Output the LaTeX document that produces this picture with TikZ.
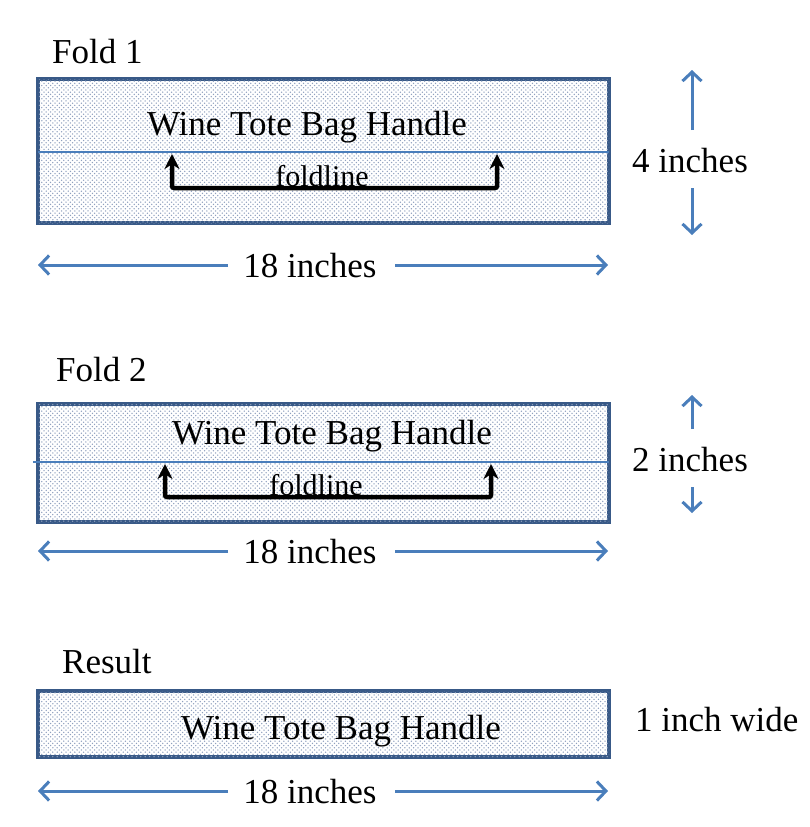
\documentclass[tikz,border=0pt]{standalone}
\usepackage{fontspec}
\setmainfont{Liberation Serif}
\usetikzlibrary{arrows.meta,patterns}
\definecolor{edgeblue}{HTML}{385987}
\definecolor{dimblue}{HTML}{4A7EBB}
\definecolor{dotblue}{HTML}{8FA0BE}
\pgfdeclarepatternformonly{stagdots}{\pgfpoint{-1pt}{-1pt}}{\pgfpoint{5.4pt}{5.4pt}}{\pgfpoint{4.4pt}{4.4pt}}{%
  \pgfpathcircle{\pgfpoint{0pt}{0pt}}{0.75pt}%
  \pgfpathcircle{\pgfpoint{2.2pt}{2.2pt}}{0.75pt}%
  \pgfusepath{fill}}
\tikzset{
  bandbox/.style={draw=edgeblue,line width=4pt,fill=white,postaction={pattern=stagdots,pattern color=dotblue}},
  fline/.style={draw=dimblue,line width=1.4pt},
  dimarrow/.style={draw=dimblue,line width=3pt,-{Straight Barb[length=9pt,width=19pt,line width=3pt]}},
  bracketarrow/.style={draw=black,line width=4.5pt,{Stealth[length=15pt,width=15pt]}-{Stealth[length=15pt,width=15pt]},rounded corners=2pt},
  big/.style={font=\fontsize{35}{40}\selectfont,inner sep=0pt},
  small/.style={font=\fontsize{30}{34}\selectfont,inner sep=0pt},
}
\begin{document}
\begin{tikzpicture}[x=1pt,y=-1pt]
\useasboundingbox (0,0) rectangle (809,827);

% ---------- Fold 1 ----------
\node[big,anchor=base west] (t1) at (52,63) {Fold 1};
\path[bandbox] (38,79) rectangle (609,223);
\coordinate (f1a) at (38,152);
\coordinate (f1b) at (609,152);
\draw[fline] (f1a) -- (f1b);
\node[big,anchor=base] (h1) at (307,135) {Wine Tote Bag Handle};
\coordinate (b1l) at (172,154);
\coordinate (b1r) at (497,154);
\coordinate (b1bl) at (172,188);
\coordinate (b1br) at (497,188);
\draw[bracketarrow] (b1l) -- (b1bl) -- (b1br) -- (b1r);
\node[small,anchor=base] (fl1) at (322,186) {foldline};
% 4 inches
\node[big,anchor=base west] (d4) at (632,172) {4 inches};
\coordinate (d4ub) at (692,130);
\coordinate (d4ut) at (692,70);
\coordinate (d4db) at (692,188);
\coordinate (d4dt) at (692,235);
\draw[dimarrow] (d4ub) -- (d4ut);
\draw[dimarrow] (d4db) -- (d4dt);
% 18 inches
\node[big,anchor=base] (w1) at (310,277) {18 inches};
\coordinate (w1l) at (38,265);
\coordinate (w1r) at (608,265);
\draw[dimarrow] (228,265) -- (w1l);
\draw[dimarrow] (395,265) -- (w1r);

% ---------- Fold 2 ----------
\node[big,anchor=base west] (t2) at (56,381) {Fold 2};
\path[bandbox] (38,404) rectangle (609,522);
\coordinate (f2a) at (33,462);
\coordinate (f2b) at (609,462);
\draw[fline] (f2a) -- (f2b);
\node[big,anchor=base] (h2) at (332,444) {Wine Tote Bag Handle};
\coordinate (b2l) at (165,464);
\coordinate (b2r) at (491,464);
\coordinate (b2bl) at (165,497);
\coordinate (b2br) at (491,497);
\draw[bracketarrow] (b2l) -- (b2bl) -- (b2br) -- (b2r);
\node[small,anchor=base] (fl2) at (316,495) {foldline};
% 2 inches
\node[big,anchor=base west] (d2) at (632,471) {2 inches};
\coordinate (d2ub) at (692,429);
\coordinate (d2ut) at (692,395);
\coordinate (d2db) at (692,487);
\coordinate (d2dt) at (692,513);
\draw[dimarrow] (d2ub) -- (d2ut);
\draw[dimarrow] (d2db) -- (d2dt);
% 18 inches
\node[big,anchor=base] (w2) at (310,563) {18 inches};
\coordinate (w2l) at (38,551);
\coordinate (w2r) at (608,551);
\draw[dimarrow] (228,551) -- (w2l);
\draw[dimarrow] (395,551) -- (w2r);

% ---------- Result ----------
\node[big,anchor=base west] (t3) at (62,673) {Result};
\path[bandbox] (38,691) rectangle (609,757);
\node[big,anchor=base] (h3) at (341,739) {Wine Tote Bag Handle};
\node[big,anchor=base west] (d1) at (635,731) {1 inch wide};
\node[big,anchor=base] (w3) at (310,803) {18 inches};
\coordinate (w3l) at (38,791);
\coordinate (w3r) at (608,791);
\draw[dimarrow] (228,791) -- (w3l);
\draw[dimarrow] (395,791) -- (w3r);
\end{tikzpicture}
\end{document}
